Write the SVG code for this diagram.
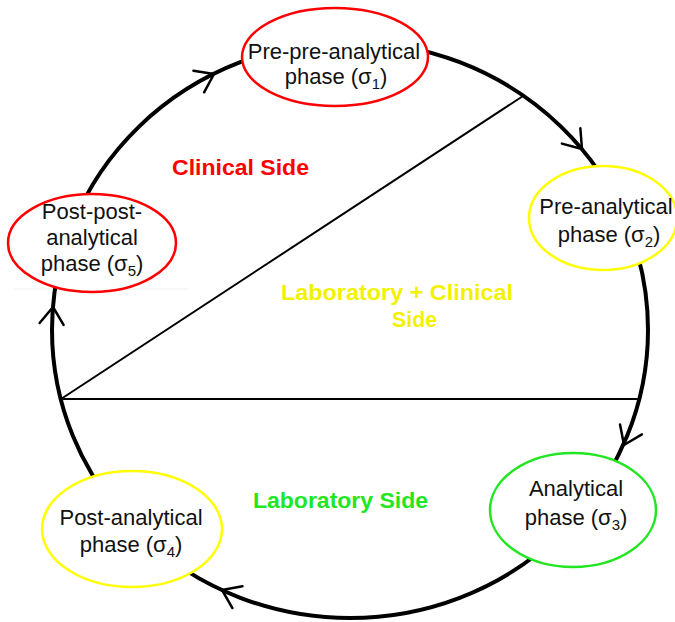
<svg xmlns="http://www.w3.org/2000/svg" width="675" height="622" viewBox="0 0 675 622">
<style>
.node-text{font-family:"Liberation Sans",Arial,sans-serif;font-size:22px;fill:#111;text-anchor:middle}
.sub{font-size:15px}
.side{font-family:"Liberation Sans",Arial,sans-serif;font-size:22px;font-weight:bold}
.ring{fill:none;stroke:#000;stroke-width:4}
.chord{stroke:#000;stroke-width:2;fill:none}
.node{fill:#fff;stroke-width:2.5}
.red{stroke:#ff0000}
.yellow{stroke:#ffff00}
.green{stroke:#22e622}
</style>
<defs>
<path id="ah" d="M -17 -12 L 0 0 L -17 12" fill="none" stroke="#000" stroke-width="2.5" stroke-linecap="round" stroke-linejoin="round"/>
</defs>
<rect width="675" height="622" fill="#fff"/>
<line x1="13" y1="289" x2="188" y2="289" stroke="#eeeeee" stroke-width="1"/>
<g id="connectors">
<ellipse class="ring" cx="350" cy="330" rx="298" ry="288"/>
<line class="chord" x1="61" y1="399" x2="523" y2="96"/>
<line class="chord" x1="61" y1="399" x2="639" y2="399"/>
<use href="#ah" transform="translate(214,74) rotate(-26.4)"/>
<use href="#ah" transform="translate(582,149) rotate(50.2)"/>
<use href="#ah" transform="translate(624,445) rotate(114.2)"/>
<use href="#ah" transform="translate(222,590) rotate(204.7)"/>
<use href="#ah" transform="translate(53,307) rotate(-85.3)"/>
</g>
<g id="labels">
<text class="side" x="172" y="175" fill="#ff0000" textLength="137" lengthAdjust="spacingAndGlyphs">Clinical Side</text>
<text class="side" x="281" y="300" fill="#f2f200" textLength="232" lengthAdjust="spacingAndGlyphs">Laboratory + Clinical</text>
<text class="side" x="392" y="327" fill="#f2f200" textLength="45" lengthAdjust="spacingAndGlyphs">Side</text>
<text class="side" x="253" y="508" fill="#22e622" textLength="175" lengthAdjust="spacingAndGlyphs">Laboratory Side</text>
</g>
<g id="node-sigma1">
<ellipse class="node red" cx="335" cy="57" rx="93" ry="49"/>
<text class="node-text" x="334" y="59">Pre-pre-analytical</text>
<text class="node-text" x="336" y="84">phase (σ<tspan class="sub" dy="5">1</tspan><tspan dy="-5">)</tspan></text>
</g>
<g id="node-sigma2">
<ellipse class="node yellow" cx="603" cy="218" rx="74" ry="52"/>
<text class="node-text" x="606" y="214">Pre-analytical</text>
<text class="node-text" x="609" y="242">phase (σ<tspan class="sub" dy="5">2</tspan><tspan dy="-5">)</tspan></text>
</g>
<g id="node-sigma3">
<ellipse class="node green" cx="573" cy="510" rx="83" ry="57"/>
<text class="node-text" x="576" y="496">Analytical</text>
<text class="node-text" x="576" y="525">phase (σ<tspan class="sub" dy="5">3</tspan><tspan dy="-5">)</tspan></text>
</g>
<g id="node-sigma4">
<ellipse class="node yellow" cx="132" cy="529" rx="90" ry="58"/>
<text class="node-text" x="131" y="525">Post-analytical</text>
<text class="node-text" x="131" y="552">phase (σ<tspan class="sub" dy="5">4</tspan><tspan dy="-5">)</tspan></text>
</g>
<g id="node-sigma5">
<ellipse class="node red" cx="92" cy="243" rx="84" ry="49"/>
<text class="node-text" x="92" y="219">Post-post-</text>
<text class="node-text" x="92" y="245">analytical</text>
<text class="node-text" x="92" y="271">phase (σ<tspan class="sub" dy="5">5</tspan><tspan dy="-5">)</tspan></text>
</g>
</svg>
